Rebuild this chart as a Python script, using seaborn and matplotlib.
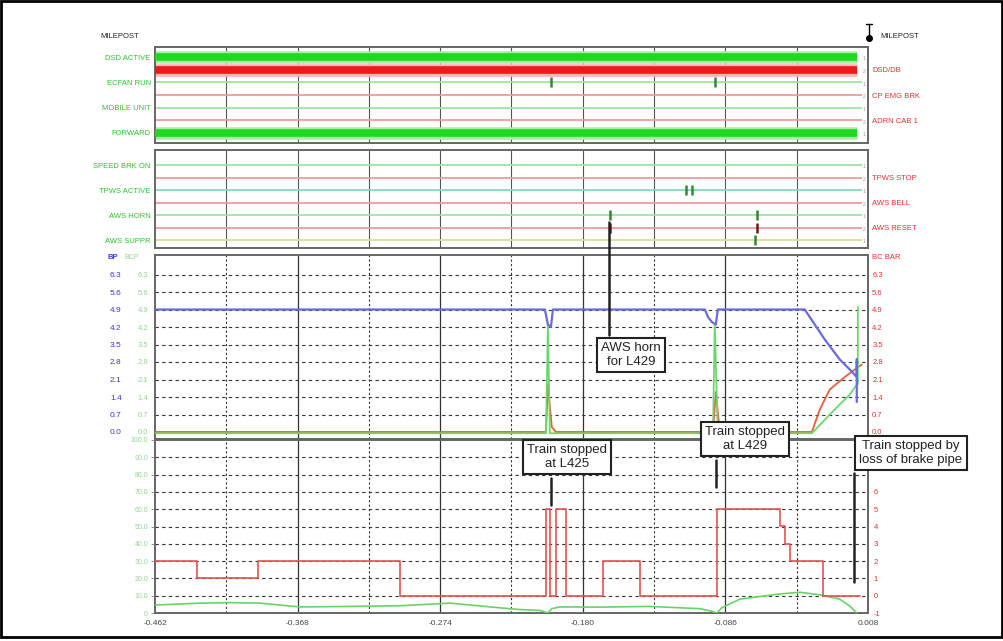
import numpy as np
import pandas as pd
import matplotlib
matplotlib.use("Agg")
import matplotlib.pyplot as plt
import seaborn as sns
from matplotlib.lines import Line2D
from matplotlib.patches import Rectangle

sns.set_theme(style="white")
plt.rcParams["font.family"] = ["Liberation Sans", "DejaVu Sans"]

# ---------------- data ----------------
dist_start, dist_end = -0.462, 0.008
dist_ticks = [-0.462, -0.368, -0.274, -0.180, -0.086, 0.008]
dist_mid = [-0.415, -0.321, -0.227, -0.133, -0.039]
on_end = 0.0006          # where the "on" bars stop

# digital channels - top group (rows top to bottom)
top_left_names = ["DSD ACTIVE", "ECFAN RUN", "MOBILE UNIT", "FORWARD"]
top_right_names = ["DSD/DB", "CP EMG BRK", "ADRN CAB 1"]
top_rows_on = [1, 1, 0, 0, 0, 0, 1]
top_events = {2: [-0.201, -0.093]}

# digital channels - AWS / TPWS group
mid_left_names = ["SPEED BRK ON", "TPWS ACTIVE", "AWS HORN", "AWS SUPPR"]
mid_right_names = ["TPWS STOP", "AWS BELL", "AWS RESET"]
mid_rows_on = [0, 0, 0, 0, 0, 0, 0]
mid_events = {2: [-0.1121, -0.1081], 4: [-0.1622, -0.0653],
              5: [-0.1622, -0.0653], 6: [-0.0666]}

# brake pressures (bar)
bar_ticks = [0.0, 0.7, 1.4, 2.1, 2.8, 3.5, 4.2, 4.9, 5.6, 6.3]
bp_dist = [-0.462, -0.2050, -0.2030, -0.2010, -0.1997, -0.0995, -0.0975,
           -0.0949, -0.0923, -0.0910, -0.0337, -0.0205, -0.0106, -0.0040,
           0.0006, 0.0006, 0.0006]
bp_bar = [4.9, 4.9, 4.3, 4.2, 4.9, 4.9, 4.6, 4.4, 4.3, 4.9, 4.9, 3.7, 2.9,
          2.5, 2.2, 2.9, 1.2]
bc_dist = [-0.462, -0.2043, -0.2030, -0.2017, -0.2004, -0.1977, -0.0942,
           -0.0923, -0.0910, -0.0897, -0.0290, -0.0238, -0.0172, -0.0073,
           -0.0007, 0.0039]
bc_bar = [0.0, 0.0, 1.9, 1.0, 0.2, 0.0, 0.0, 1.6, 0.8, 0.0, 0.0, 0.9, 1.7,
          2.2, 2.5, 2.7]
bcp_dist = [-0.462, -0.2043, -0.2030, -0.2017, -0.0942, -0.0930, -0.0910,
            -0.0290, -0.0172, -0.0040, 0.0006, 0.0013, 0.0013]
bcp_bar = [-0.05, -0.05, 4.3, -0.05, -0.05, 4.3, -0.05, -0.05, 0.7, 1.5,
           1.9, 1.9, 5.0]

# speed (mph) and brake/power notch
speed_ticks = [0, 10, 20, 30, 40, 50, 60, 70, 80, 90, 100]
notch_ticks = [-1, 0, 1, 2, 3, 4, 5, 6]
speed_dist = [-0.462, -0.4323, -0.4126, -0.3928, -0.3664, -0.3335, -0.3005,
              -0.2676, -0.2346, -0.2215, -0.2083, -0.2030, -0.2004, -0.1951,
              -0.1687, -0.1358, -0.1028, -0.0949, -0.0917, -0.0884, -0.0765,
              -0.0501, -0.0370, -0.0238, -0.0106, -0.0040, 0.0006]
speed_mph = [4.6, 5.7, 6.0, 5.7, 3.5, 3.8, 4.2, 5.7, 3.0, 2.0, 1.5, 0.0, 2.5,
             3.5, 3.4, 3.8, 2.5, 1.0, 0.0, 3.0, 8.0, 11.0, 12.0, 10.5, 8.0,
             4.0, 0.0]
notch_dist = [-0.462, -0.4343, -0.3941, -0.3005, -0.2043, -0.2017, -0.1977,
              -0.1912, -0.1667, -0.1424, -0.0917, -0.0501, -0.0468, -0.0435,
              -0.0218, 0.003]
notch_val = [2, 1, 2, 0, 5, 0, 5, 0, 2, 0, 5, 4, 3, 2, 0, 0]

notes = ["AWS horn\nfor L429", "Train stopped\nat L425",
         "Train stopped\nat L429", "Train stopped by\nloss of brake pipe"]

# ---------------- figure ----------------
W, H = 1004, 641
fig = plt.figure(figsize=(W / 100, H / 100), dpi=100)
fig.patch.set_facecolor("white")


def rect(top, bottom, left=155, right=868):
    return [left / W, 1 - bottom / H, (right - left) / W, (bottom - top) / H]


ax1 = fig.add_axes(rect(47, 143))
ax2 = fig.add_axes(rect(150, 248))
ax3 = fig.add_axes(rect(255, 439))
ax4 = fig.add_axes(rect(440, 613))

GREEN, RED, BLUE = "#2bc42b", "#e83030", "#4a4ad0"
col_on = {"g": ("#a8eea8", "#1fd81f"), "r": ("#f6b4b4", "#ee1a1a")}
col_off = {"g": "#9ee59e", "r": "#f19a9a", "t": "#86d8c4", "y": "#cfe596"}

for ax in (ax1, ax2, ax3, ax4):
    ax.set_xlim(dist_start, dist_end)
    ax.set_facecolor("white")
    for s in ax.spines.values():
        s.set_color("#666666")
        s.set_linewidth(1.4)
    ax.tick_params(axis="x", length=0, labelbottom=False)


def digital(ax, rows_on, kinds, events, lnames, rnames, ylim):
    n = len(rows_on)
    ax.set_ylim(*ylim)
    for v in dist_ticks[1:-1] + dist_mid:
        ax.axvline(v, color="#555555", lw=0.8, zorder=1)
    for i, (on, k) in enumerate(zip(rows_on, kinds)):
        y = n - 1 - i
        if on:
            halo, core = col_on[k]
            ax.hlines(y, dist_start, on_end, color=halo, lw=9, zorder=2)
            ax.hlines(y, dist_start, on_end, color=core, lw=5.5, zorder=3)
        else:
            ax.hlines(y, dist_start, 0.004, color=col_off[k], lw=1.3, zorder=2)
        ax.text(0.0045, y - 0.15, "1" if k != "r" else "2", fontsize=3.5,
                color="#999999", ha="left", va="center")
    for i, xs in events.items():
        y = n - 1 - i
        c = "#6b1a1a" if kinds[i] == "r" else "#2f8a2f"
        ax.vlines(xs, y - 0.4, y + 0.4, color=c, lw=1.8, zorder=4)
    ax.set_yticks([n - 1 - i for i in range(0, n, 2)])
    ax.set_yticklabels(lnames)
    ax.tick_params(axis="y", length=0, pad=3, labelsize=5.5, labelcolor=GREEN)
    sec = ax.secondary_yaxis("right")
    sec.set_yticks([n - 1 - i for i in range(1, n, 2)])
    sec.set_yticklabels(rnames)
    sec.tick_params(length=0, pad=3, labelsize=5.5, labelcolor=RED)
    sec.spines["right"].set_visible(False)


digital(ax1, top_rows_on, ["g", "r", "g", "r", "g", "r", "g"], top_events,
        top_left_names, top_right_names, (-0.79, 6.79))
digital(ax2, mid_rows_on, ["g", "r", "t", "r", "g", "r", "y"], mid_events,
        mid_left_names, mid_right_names, (-0.64, 7.2))


def analog_grid(ax, ys):
    for y in ys:
        ax.axhline(y, color="#333333", lw=0.8, ls=(0, (3, 3)), zorder=1)
    for v in dist_ticks[1:-1]:
        ax.axvline(v, color="#333333", lw=0.9, zorder=1)
    for v in dist_mid:
        ax.axvline(v, color="#333333", lw=0.8, ls=(0, (2, 2)), zorder=1)


# ---- pressures ----
ax3.set_ylim(-0.28, 7.08)
analog_grid(ax3, bar_ticks[1:])
sns.lineplot(x=bc_dist, y=bc_bar, ax=ax3, color="#e2603a", lw=1.3,
             estimator=None, sort=False, zorder=3)
sns.lineplot(x=bcp_dist, y=bcp_bar, ax=ax3, color="#6cd86c", lw=1.3,
             estimator=None, sort=False, zorder=3)
sns.lineplot(x=bp_dist, y=bp_bar, ax=ax3, color="#6a6ae0", lw=1.6,
             estimator=None, sort=False, zorder=4)
ax3.set_yticks(bar_ticks)
ax3.set_yticklabels([f"{v:.1f}" for v in bar_ticks])
ax3.tick_params(axis="y", length=3, width=0.6, color="#888888", pad=2,
                labelsize=5.5, labelcolor="#8fd88f")
sec3 = ax3.secondary_yaxis("left")
sec3.set_yticks(bar_ticks)
sec3.set_yticklabels([f"{v:.1f}" for v in bar_ticks])
sec3.tick_params(length=0, pad=24, labelsize=6, labelcolor="#3a3ad0")
sec3.spines["left"].set_visible(False)
sec3r = ax3.secondary_yaxis("right")
sec3r.set_yticks(bar_ticks)
sec3r.set_yticklabels([f"{v:.1f}" for v in bar_ticks])
sec3r.tick_params(length=0, pad=3, labelsize=5.5, labelcolor=RED)
sec3r.spines["right"].set_visible(False)
ax3.set_ylabel("")
ax3.set_xlabel("")

# ---- speed and notch ----
ax4.set_ylim(0, 100)
analog_grid(ax4, speed_ticks[1:-1])
ax4b = ax4.twinx()
ax4b.set_ylim(-1, 9)
ax4b.set_xlim(dist_start, dist_end)
sns.lineplot(x=notch_dist, y=notch_val, ax=ax4b, color="#e85050", lw=1.2,
             drawstyle="steps-post", estimator=None, sort=False)
sns.lineplot(x=speed_dist, y=speed_mph, ax=ax4, color="#66d466", lw=1.2,
             estimator=None, sort=False, zorder=3)
ax4.set_yticks(speed_ticks)
ax4.set_yticklabels(["0"] + [f"{v:.1f}" for v in speed_ticks[1:]])
ax4.tick_params(axis="y", length=3, width=0.6, color="#888888", pad=2,
                labelsize=5, labelcolor="#8fd88f")
ax4b.set_yticks(notch_ticks)
ax4b.set_yticklabels([str(v) for v in notch_ticks])
ax4b.tick_params(axis="y", length=0, pad=4, labelsize=5.5, labelcolor=RED)
for s in ax4b.spines.values():
    s.set_visible(False)
ax4b.set_ylabel("")
ax4.set_ylabel("")
ax4.set_xticks(dist_ticks)
ax4.set_xticklabels([f"{v:.3f}" for v in dist_ticks])
ax4.tick_params(axis="x", length=3, labelbottom=True, labelsize=6,
                labelcolor="#444444", pad=2)
ax4.set_xlabel("DIST (0.05 MILE)", fontsize=6, color="#444444", labelpad=3)

# ---- headers ----
def fx(px):
    return px / W


def fy(py):
    return 1 - py / H


fig.text(fx(100), fy(37), "MILEPOST", fontsize=5.5, color="#222222", va="center")
fig.text(fx(880), fy(37), "MILEPOST", fontsize=5.5, color="#222222", va="center")
fig.add_artist(Line2D([fx(869), fx(869)], [fy(24), fy(38)], color="black", lw=1))
fig.add_artist(Line2D([fx(866), fx(872)], [fy(24), fy(24)], color="black", lw=1))
fig.add_artist(Line2D([fx(869)], [fy(38)], marker="o", ms=4, color="black"))
fig.text(fx(108), fy(258), "BP", fontsize=5.5, color="#3a3ad0", va="center",
         weight="bold")
fig.text(fx(124), fy(258), "BCP", fontsize=5, color="#8fd88f", va="center")
fig.text(fx(872), fy(258), "BC BAR", fontsize=5.5, color=RED, va="center")

# ---- call-outs ----
boxes = [(631, 355), (567, 457), (745, 439), (911, 453)]
leaders = [((609, 222), (609, 335)), ((551, 478), (551, 505)),
           ((716, 460), (716, 487)), ((854, 473), (854, 582))]
for (a, b), (cx, cy), txt in zip(leaders, boxes, notes):
    fig.add_artist(Line2D([fx(a[0]), fx(b[0])], [fy(a[1]), fy(b[1])],
                          color="#222222", lw=1.8, zorder=10))
    fig.text(fx(cx), fy(cy), txt, fontsize=9.5, ha="center", va="center",
             color="#222222", linespacing=1.25, zorder=11,
             bbox=dict(boxstyle="square,pad=0.3", fc="white", ec="#222222",
                       lw=1.5))

# outer frame
fig.add_artist(Rectangle((0.001, 0.006), 0.997, 0.992, transform=fig.transFigure,
                         fill=False, ec="black", lw=2))

fig.savefig("out.png", dpi=100)
